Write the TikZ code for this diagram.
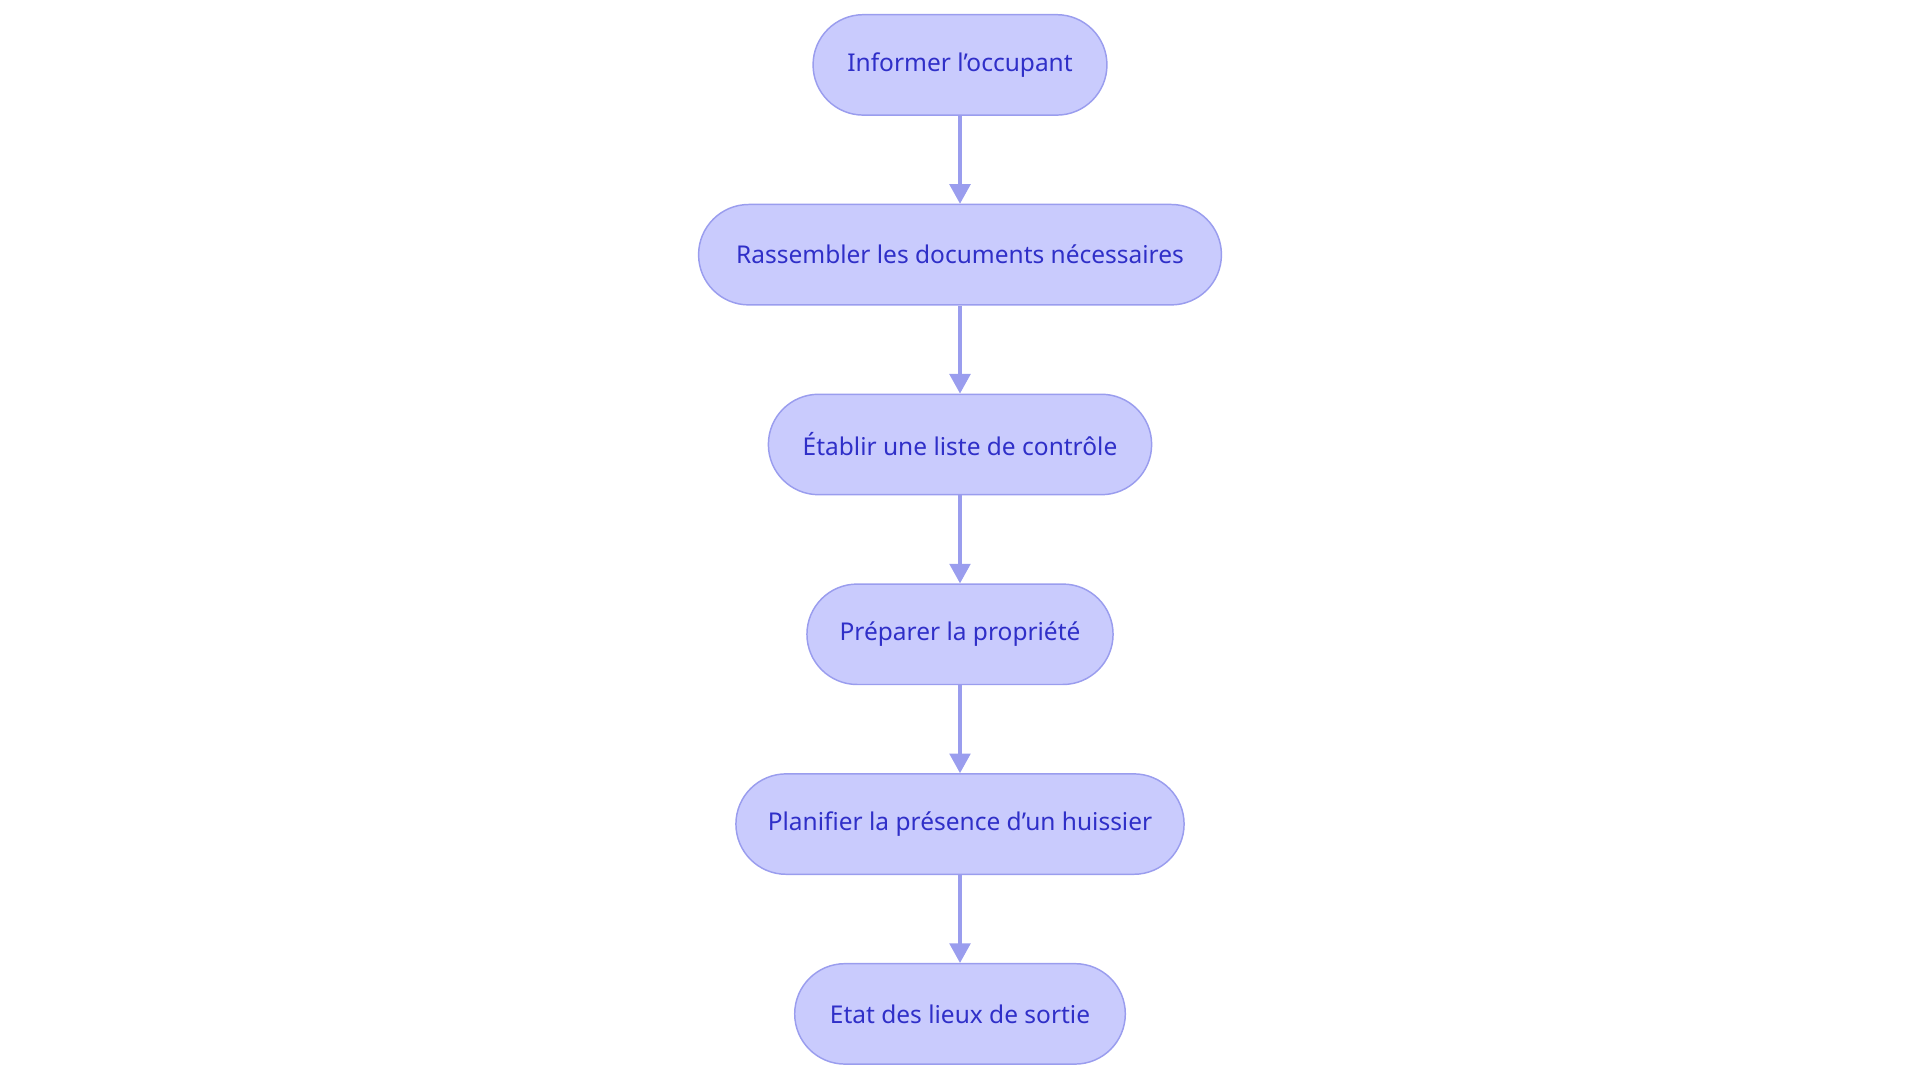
\documentclass[tikz,border=0pt]{standalone}
\usepackage{fontspec}
\setmainfont{Noto Sans}
\usetikzlibrary{arrows.meta}
\definecolor{nfill}{HTML}{C9CBFD}
\definecolor{nline}{HTML}{9A9DEE}
\definecolor{ntext}{HTML}{2F2FC8}
\begin{document}
\begin{tikzpicture}[x=1pt,y=1pt,
  box/.style={draw=nline,line width=1.2pt,fill=nfill,rounded corners=41pt,minimum height=82pt,inner sep=0pt,text=ntext,font=\fontsize{20}{24}\selectfont},
  arr/.style={draw=nline,line width=2.5pt,-{Triangle[length=16pt,width=17pt]}}]
\useasboundingbox (0,0) rectangle (1568,884);
\node[box,minimum width=240pt] (a) at (784,831) {Informer l'occupant};
\node[box,minimum width=427pt] (b) at (784,676) {Rassembler les documents nécessaires};
\node[box,minimum width=313pt] (c) at (784,521) {Établir une liste de contrôle};
\node[box,minimum width=250pt] (d) at (784,366) {Préparer la propriété};
\node[box,minimum width=366pt] (e) at (784,211) {Planifier la présence d'un huissier};
\node[box,minimum width=270pt] (f) at (784,56) {Etat des lieux de sortie};
\draw[arr] (a) -- (b);
\draw[arr] (b) -- (c);
\draw[arr] (c) -- (d);
\draw[arr] (d) -- (e);
\draw[arr] (e) -- (f);
\end{tikzpicture}
\end{document}
